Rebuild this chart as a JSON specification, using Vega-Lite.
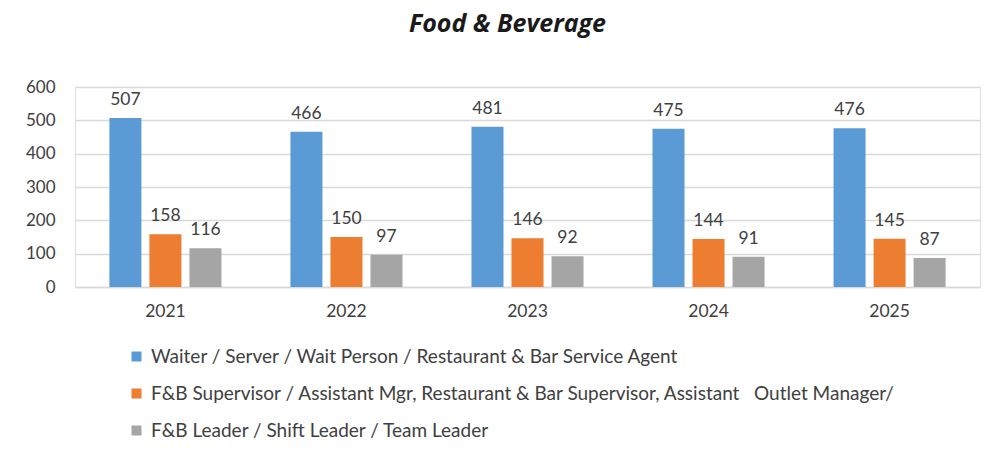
{
  "$schema": "https://vega.github.io/schema/vega-lite/v6.json",
  "width": 905,
  "height": 200,
  "autosize": {"type": "none"},
  "padding": {"left": 75, "top": 87, "right": 15, "bottom": 170},
  "background": "white",
  "title": {
    "text": "Food & Beverage",
    "font": "Open Sans",
    "fontSize": 25,
    "fontWeight": "bold",
    "fontStyle": "italic",
    "color": "#1a1a1a",
    "anchor": "middle",
    "dx": -20,
    "offset": 41
  },
  "data": {
    "values": [
      {"year": "2021", "role": "Waiter / Server / Wait Person / Restaurant & Bar Service Agent", "value": 507},
      {"year": "2021", "role": "F&B Supervisor / Assistant Mgr, Restaurant & Bar Supervisor, Assistant\u00a0\u00a0 Outlet Manager/", "value": 158},
      {"year": "2021", "role": "F&B Leader / Shift Leader / Team Leader", "value": 116},
      {"year": "2022", "role": "Waiter / Server / Wait Person / Restaurant & Bar Service Agent", "value": 466},
      {"year": "2022", "role": "F&B Supervisor / Assistant Mgr, Restaurant & Bar Supervisor, Assistant\u00a0\u00a0 Outlet Manager/", "value": 150},
      {"year": "2022", "role": "F&B Leader / Shift Leader / Team Leader", "value": 97},
      {"year": "2023", "role": "Waiter / Server / Wait Person / Restaurant & Bar Service Agent", "value": 481},
      {"year": "2023", "role": "F&B Supervisor / Assistant Mgr, Restaurant & Bar Supervisor, Assistant\u00a0\u00a0 Outlet Manager/", "value": 146},
      {"year": "2023", "role": "F&B Leader / Shift Leader / Team Leader", "value": 92},
      {"year": "2024", "role": "Waiter / Server / Wait Person / Restaurant & Bar Service Agent", "value": 475},
      {"year": "2024", "role": "F&B Supervisor / Assistant Mgr, Restaurant & Bar Supervisor, Assistant\u00a0\u00a0 Outlet Manager/", "value": 144},
      {"year": "2024", "role": "F&B Leader / Shift Leader / Team Leader", "value": 91},
      {"year": "2025", "role": "Waiter / Server / Wait Person / Restaurant & Bar Service Agent", "value": 476},
      {"year": "2025", "role": "F&B Supervisor / Assistant Mgr, Restaurant & Bar Supervisor, Assistant\u00a0\u00a0 Outlet Manager/", "value": 145},
      {"year": "2025", "role": "F&B Leader / Shift Leader / Team Leader", "value": 87}
    ]
  },
  "encoding": {
    "x": {
      "field": "year",
      "type": "nominal",
      "scale": {"paddingInner": 0.381, "paddingOuter": 0.19},
      "axis": {
        "title": null,
        "labelAngle": 0,
        "labelFont": "Lato",
        "labelFontSize": 17.5,
        "labelColor": "#404040",
        "labelPadding": 15,
        "ticks": false,
        "domainColor": "#d9d9d9",
        "domainWidth": 1.5
      }
    },
    "xOffset": {
      "field": "role",
      "type": "nominal",
      "sort": null,
      "scale": {"paddingInner": 0.2, "paddingOuter": 0}
    },
    "y": {
      "field": "value",
      "type": "quantitative",
      "scale": {"domain": [0, 600]},
      "axis": {
        "title": null,
        "values": [0, 100, 200, 300, 400, 500, 600],
        "labelFont": "Lato",
        "labelFontSize": 17,
        "labelColor": "#404040",
        "labelPadding": 20,
        "ticks": false,
        "domain": false,
        "grid": true,
        "gridColor": "#d9d9d9",
        "gridWidth": 1.5
      }
    }
  },
  "layer": [
    {
      "mark": {"type": "bar"},
      "encoding": {
        "color": {
          "field": "role",
          "type": "nominal",
          "sort": null,
          "scale": {
            "domain": [
              "Waiter / Server / Wait Person / Restaurant & Bar Service Agent",
              "F&B Supervisor / Assistant Mgr, Restaurant & Bar Supervisor, Assistant\u00a0\u00a0 Outlet Manager/",
              "F&B Leader / Shift Leader / Team Leader"
            ],
            "range": ["#5B9BD5", "#ED7D31", "#A5A5A5"]
          },
          "legend": {
            "title": null,
            "orient": "none",
            "legendX": 52,
            "legendY": 260,
            "direction": "vertical",
            "symbolType": "square",
            "symbolSize": 100,
            "symbolStrokeWidth": 0,
            "labelFont": "Lato",
            "labelFontSize": 19,
            "labelColor": "#404040",
            "labelLimit": 900,
            "labelOffset": 5,
            "rowPadding": 17
          }
        }
      }
    },
    {
      "mark": {"type": "text", "baseline": "bottom", "dy": -9, "font": "Lato", "fontSize": 17.5, "color": "#404040"},
      "encoding": {
        "text": {"field": "value", "type": "quantitative"}
      }
    }
  ]
}
